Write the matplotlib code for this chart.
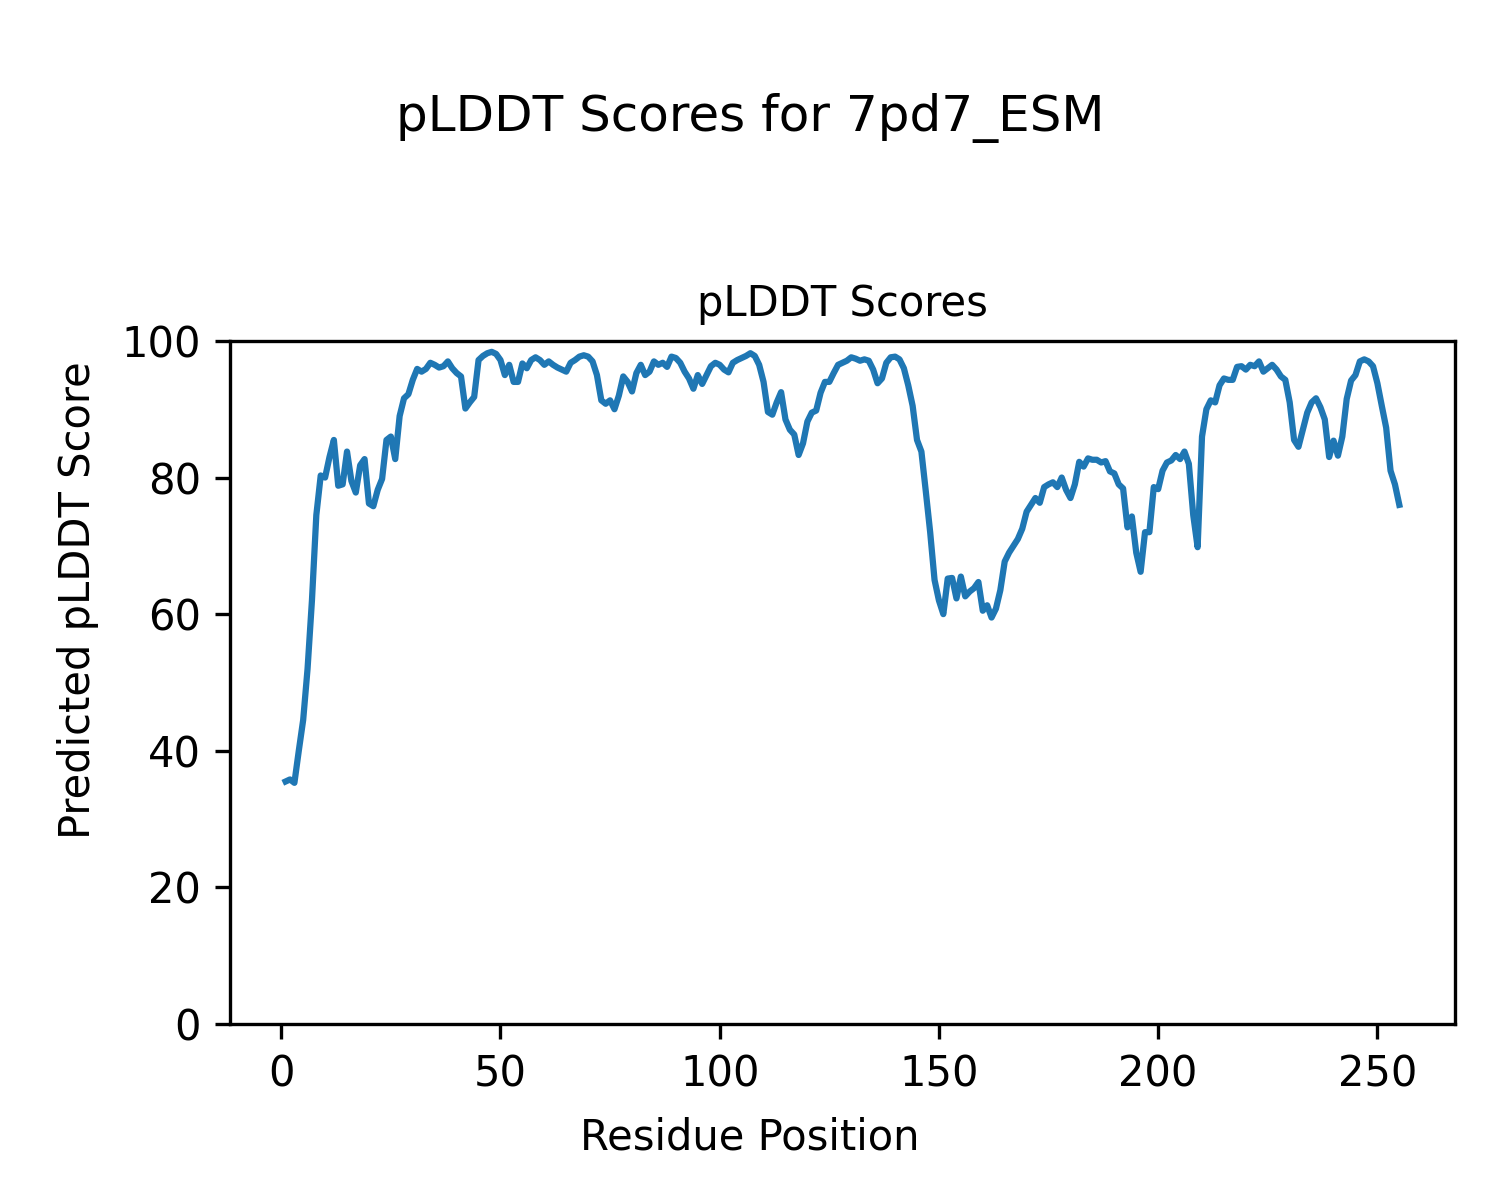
import matplotlib
matplotlib.use("Agg")
import matplotlib.pyplot as plt
import numpy as np

plddt = [
    35.5, 35.8, 35.3, 40.0, 44.5, 52.0, 62.0, 74.5, 80.3, 80.0,
    83.0, 85.5, 78.8, 79.0, 83.8, 79.5, 77.8, 81.8, 82.7, 76.2,
    75.8, 78.2, 79.8, 85.5, 86.0, 82.7, 89.0, 91.6, 92.2, 94.3,
    95.9, 95.5, 95.9, 96.8, 96.5, 96.1, 96.3, 97.0, 96.0, 95.3,
    94.8, 90.1, 91.0, 91.8, 97.2, 97.8, 98.2, 98.4, 98.1, 97.2,
    95.0, 96.5, 94.0, 94.0, 96.7, 96.0, 97.2, 97.6, 97.2, 96.5,
    97.0, 96.5, 96.1, 95.8, 95.5, 96.8, 97.2, 97.7, 97.9, 97.7,
    97.0, 95.0, 91.3, 90.8, 91.3, 90.0, 92.0, 94.8, 94.0, 92.6,
    95.3, 96.5, 95.0, 95.5, 97.0, 96.5, 96.8, 96.2, 97.7, 97.5,
    96.8, 95.5, 94.5, 93.0, 95.0, 93.7, 95.0, 96.3, 96.8, 96.5,
    95.8, 95.4, 96.8, 97.2, 97.5, 97.8, 98.2, 97.8, 96.5, 94.0,
    89.6, 89.2, 91.0, 92.5, 88.5, 87.0, 86.3, 83.3, 85.0, 88.2,
    89.5, 89.8, 92.4, 94.0, 94.0, 95.3, 96.5, 96.8, 97.1, 97.6,
    97.4, 97.1, 97.3, 97.1, 95.8, 93.8, 94.5, 96.8, 97.6, 97.7,
    97.3, 96.0, 93.5, 90.5, 85.5, 83.8, 78.0, 72.0, 65.0, 62.0,
    60.0, 65.2, 65.3, 62.3, 65.5, 62.6, 63.3, 63.8, 64.7, 60.5,
    61.3, 59.5, 60.8, 63.5, 67.7, 69.0, 70.0, 71.0, 72.5, 75.0,
    76.0, 77.0, 76.3, 78.6, 79.0, 79.3, 78.6, 80.0, 78.2, 77.0,
    79.0, 82.3, 81.6, 82.8, 82.6, 82.6, 82.2, 82.4, 80.9, 80.6,
    79.0, 78.4, 72.7, 74.3, 69.0, 66.2, 72.0, 72.0, 78.6, 78.3,
    81.0, 82.2, 82.5, 83.3, 82.7, 83.8, 82.0, 74.5, 69.8, 86.0,
    90.0, 91.3, 91.0, 93.5, 94.5, 94.3, 94.3, 96.2, 96.3, 95.8,
    96.5, 96.3, 97.0, 95.5, 96.0, 96.5, 95.8, 94.8, 94.3, 91.0,
    85.5, 84.5, 87.0, 89.5, 91.0, 91.6, 90.3, 88.5, 83.0, 85.4,
    83.2, 86.0, 91.5, 94.2, 95.0, 97.0, 97.3, 97.0, 96.3, 93.8,
    90.5, 87.3, 81.0, 79.0, 76.0,
]
residues = np.arange(1, len(plddt) + 1)

fig = plt.figure(figsize=(5, 4), dpi=300)
fig.suptitle("pLDDT Scores for 7pd7_ESM", y=1 - 118 / 1200, va="center")
ax = fig.add_axes([0.1533, 0.1467, 0.8167, 0.5692])
ax.plot(residues, plddt, color="#1f77b4")
ax.set_ylim(0, 100)
ax.set_title("pLDDT Scores", fontsize=10)
fig.supxlabel("Residue Position", y=1 - 1138 / 1200, va="center", fontsize=10)
fig.supylabel("Predicted pLDDT Score", x=78 / 1500, y=0.5, ha="center", va="center", fontsize=10)
fig.savefig("out.png", dpi=300)
